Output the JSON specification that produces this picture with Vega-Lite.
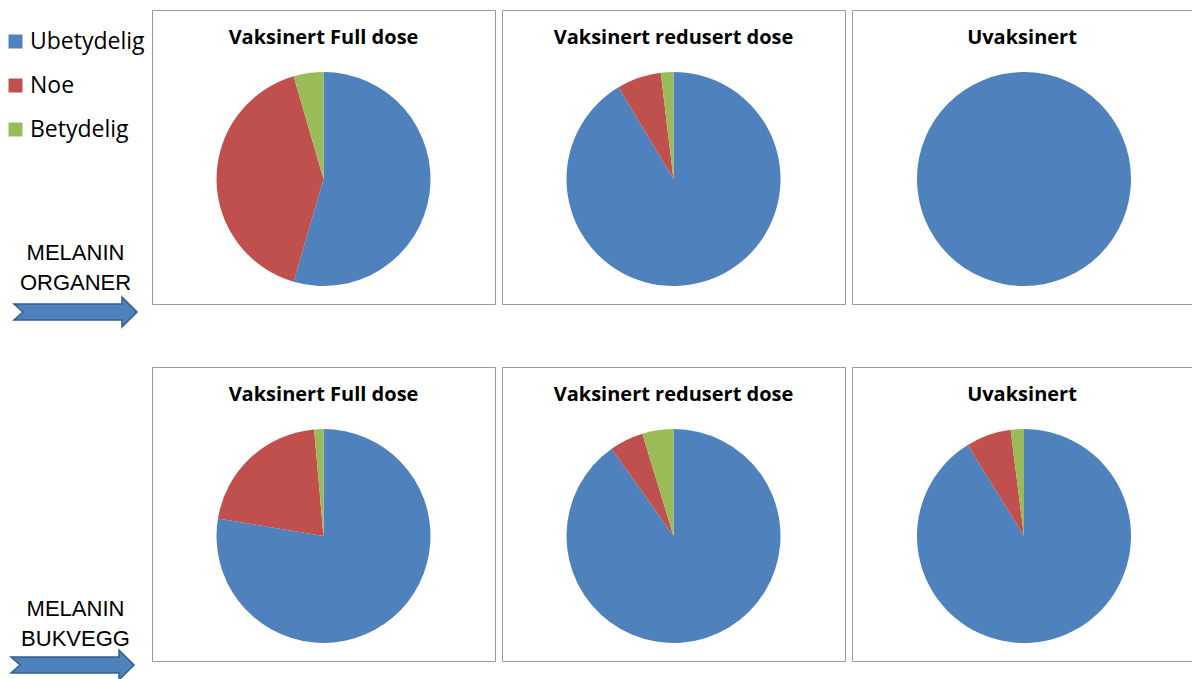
{
  "$schema": "https://vega.github.io/schema/vega-lite/v6.json",
  "background": "white",
  "padding": {"left": 0, "top": 9, "right": 0, "bottom": 0},
  "datasets": {
    "pie": [
      {"gruppe": "MELANIN ORGANER", "behandling": "Vaksinert Full dose", "kategori": "Ubetydelig", "andel": 54.5, "ord": 1},
      {"gruppe": "MELANIN ORGANER", "behandling": "Vaksinert Full dose", "kategori": "Noe", "andel": 41.0, "ord": 2},
      {"gruppe": "MELANIN ORGANER", "behandling": "Vaksinert Full dose", "kategori": "Betydelig", "andel": 4.5, "ord": 3},
      {"gruppe": "MELANIN ORGANER", "behandling": "Vaksinert redusert dose", "kategori": "Ubetydelig", "andel": 91.4, "ord": 1},
      {"gruppe": "MELANIN ORGANER", "behandling": "Vaksinert redusert dose", "kategori": "Noe", "andel": 6.7, "ord": 2},
      {"gruppe": "MELANIN ORGANER", "behandling": "Vaksinert redusert dose", "kategori": "Betydelig", "andel": 1.9, "ord": 3},
      {"gruppe": "MELANIN ORGANER", "behandling": "Uvaksinert", "kategori": "Ubetydelig", "andel": 100, "ord": 1},
      {"gruppe": "MELANIN ORGANER", "behandling": "Uvaksinert", "kategori": "Noe", "andel": 0, "ord": 2},
      {"gruppe": "MELANIN ORGANER", "behandling": "Uvaksinert", "kategori": "Betydelig", "andel": 0, "ord": 3},
      {"gruppe": "MELANIN BUKVEGG", "behandling": "Vaksinert Full dose", "kategori": "Ubetydelig", "andel": 77.6, "ord": 1},
      {"gruppe": "MELANIN BUKVEGG", "behandling": "Vaksinert Full dose", "kategori": "Noe", "andel": 21.0, "ord": 2},
      {"gruppe": "MELANIN BUKVEGG", "behandling": "Vaksinert Full dose", "kategori": "Betydelig", "andel": 1.4, "ord": 3},
      {"gruppe": "MELANIN BUKVEGG", "behandling": "Vaksinert redusert dose", "kategori": "Ubetydelig", "andel": 90.2, "ord": 1},
      {"gruppe": "MELANIN BUKVEGG", "behandling": "Vaksinert redusert dose", "kategori": "Noe", "andel": 5.1, "ord": 2},
      {"gruppe": "MELANIN BUKVEGG", "behandling": "Vaksinert redusert dose", "kategori": "Betydelig", "andel": 4.7, "ord": 3},
      {"gruppe": "MELANIN BUKVEGG", "behandling": "Uvaksinert", "kategori": "Ubetydelig", "andel": 91.2, "ord": 1},
      {"gruppe": "MELANIN BUKVEGG", "behandling": "Uvaksinert", "kategori": "Noe", "andel": 6.8, "ord": 2},
      {"gruppe": "MELANIN BUKVEGG", "behandling": "Uvaksinert", "kategori": "Betydelig", "andel": 2.0, "ord": 3}
    ],
    "rad1": [{"rad": ["MELANIN", "ORGANER"]}],
    "rad2": [{"rad": ["MELANIN", "BUKVEGG"]}],
    "pil": [{"pil": "arrow"}],
    "tom": []
  },
  "hconcat": [
    {
      "vconcat": [
        {"data": {"name": "tom"}, "width": 151, "height": 228, "view": {"stroke": null}, "mark": "point", "encoding": {}},
        {
          "vconcat": [
            {"data": {"name": "rad1"}, "width": 151, "height": 60, "view": {"stroke": null},
             "mark": {"type": "text", "font": "Liberation Sans", "fontSize": 22, "lineHeight": 30, "align": "center", "baseline": "middle", "dy": -15, "color": "#000"},
             "encoding": {"text": {"field": "rad"}}},
            {"data": {"name": "pil"}, "width": 151, "height": 22, "view": {"stroke": null},
             "mark": {"type": "point", "shape": "M-1,-0.13 L0.756,-0.13 L0.756,-0.244 L1,0 L0.756,0.244 L0.756,0.13 L-1,0.13 L-0.854,0 Z", "size": 15129, "filled": true, "fill": "#4F81BD", "stroke": "#385D8A", "strokeWidth": 1.5, "opacity": 1},
             "encoding": {}}
          ],
          "spacing": -5
        },
        {"data": {"name": "tom"}, "width": 151, "height": 263, "view": {"stroke": null}, "mark": "point", "encoding": {}},
        {
          "vconcat": [
            {"data": {"name": "rad2"}, "width": 151, "height": 60, "view": {"stroke": null},
             "mark": {"type": "text", "font": "Liberation Sans", "fontSize": 22, "lineHeight": 30, "align": "center", "baseline": "middle", "dy": -15, "color": "#000"},
             "encoding": {"text": {"field": "rad"}}},
            {"data": {"name": "pil"}, "width": 145, "height": 22, "view": {"stroke": null},
             "mark": {"type": "point", "shape": "M-1,-0.13 L0.756,-0.13 L0.756,-0.244 L1,0 L0.756,0.244 L0.756,0.13 L-1,0.13 L-0.854,0 Z", "size": 15129, "filled": true, "fill": "#4F81BD", "stroke": "#385D8A", "strokeWidth": 1.5, "opacity": 1},
             "encoding": {}}
          ],
          "spacing": -10
        }
      ],
      "spacing": 0
    },
    {
      "data": {"name": "pie"},
      "vconcat": [
        {
          "hconcat": [
            {"width": 343, "height": 294, "title": "Vaksinert Full dose", "view": {"stroke": "#9a9a9a"},
             "transform": [{"filter": "datum.gruppe === 'MELANIN ORGANER' && datum.behandling === 'Vaksinert Full dose'"}],
             "mark": {"type": "arc", "outerRadius": 107, "yOffset": 22},
             "encoding": {"theta": {"field": "andel", "type": "quantitative", "stack": true}, "order": {"field": "ord", "type": "quantitative"},
               "color": {"field": "kategori", "type": "nominal", "scale": {"domain": ["Ubetydelig", "Noe", "Betydelig"], "range": ["#4F81BD", "#C0504D", "#9BBB59"]}}}},
            {"width": 343, "height": 294, "title": "Vaksinert redusert dose", "view": {"stroke": "#9a9a9a"},
             "transform": [{"filter": "datum.gruppe === 'MELANIN ORGANER' && datum.behandling === 'Vaksinert redusert dose'"}],
             "mark": {"type": "arc", "outerRadius": 107, "yOffset": 22},
             "encoding": {"theta": {"field": "andel", "type": "quantitative", "stack": true}, "order": {"field": "ord", "type": "quantitative"},
               "color": {"field": "kategori", "type": "nominal", "scale": {"domain": ["Ubetydelig", "Noe", "Betydelig"], "range": ["#4F81BD", "#C0504D", "#9BBB59"]}}}},
            {"width": 340, "height": 294, "title": "Uvaksinert", "view": {"stroke": "#9a9a9a"},
             "transform": [{"filter": "datum.gruppe === 'MELANIN ORGANER' && datum.behandling === 'Uvaksinert'"}],
             "mark": {"type": "arc", "outerRadius": 107, "yOffset": 22, "xOffset": 2},
             "encoding": {"theta": {"field": "andel", "type": "quantitative", "stack": true}, "order": {"field": "ord", "type": "quantitative"},
               "color": {"field": "kategori", "type": "nominal", "scale": {"domain": ["Ubetydelig", "Noe", "Betydelig"], "range": ["#4F81BD", "#C0504D", "#9BBB59"]}}}}
          ],
          "spacing": 5
        },
        {
          "hconcat": [
            {"width": 343, "height": 294, "title": "Vaksinert Full dose", "view": {"stroke": "#9a9a9a"},
             "transform": [{"filter": "datum.gruppe === 'MELANIN BUKVEGG' && datum.behandling === 'Vaksinert Full dose'"}],
             "mark": {"type": "arc", "outerRadius": 107, "yOffset": 22},
             "encoding": {"theta": {"field": "andel", "type": "quantitative", "stack": true}, "order": {"field": "ord", "type": "quantitative"},
               "color": {"field": "kategori", "type": "nominal", "scale": {"domain": ["Ubetydelig", "Noe", "Betydelig"], "range": ["#4F81BD", "#C0504D", "#9BBB59"]}}}},
            {"width": 343, "height": 294, "title": "Vaksinert redusert dose", "view": {"stroke": "#9a9a9a"},
             "transform": [{"filter": "datum.gruppe === 'MELANIN BUKVEGG' && datum.behandling === 'Vaksinert redusert dose'"}],
             "mark": {"type": "arc", "outerRadius": 107, "yOffset": 22},
             "encoding": {"theta": {"field": "andel", "type": "quantitative", "stack": true}, "order": {"field": "ord", "type": "quantitative"},
               "color": {"field": "kategori", "type": "nominal", "scale": {"domain": ["Ubetydelig", "Noe", "Betydelig"], "range": ["#4F81BD", "#C0504D", "#9BBB59"]}}}},
            {"width": 340, "height": 294, "title": "Uvaksinert", "view": {"stroke": "#9a9a9a"},
             "transform": [{"filter": "datum.gruppe === 'MELANIN BUKVEGG' && datum.behandling === 'Uvaksinert'"}],
             "mark": {"type": "arc", "outerRadius": 107, "yOffset": 22, "xOffset": 2},
             "encoding": {"theta": {"field": "andel", "type": "quantitative", "stack": true}, "order": {"field": "ord", "type": "quantitative"},
               "color": {"field": "kategori", "type": "nominal", "scale": {"domain": ["Ubetydelig", "Noe", "Betydelig"], "range": ["#4F81BD", "#C0504D", "#9BBB59"]}}}}
          ],
          "spacing": 5
        }
      ],
      "spacing": 61
    }
  ],
  "spacing": 0,
  "config": {
    "view": {"stroke": "#9a9a9a", "strokeWidth": 1},
    "arc": {"stroke": null},
    "title": {"font": "Open Sans", "fontSize": 20, "fontWeight": "bold", "color": "#000", "anchor": "middle", "frame": "group", "baseline": "middle", "offset": -38},
    "legend": {"orient": "none", "legendX": 4, "legendY": 20, "title": null, "symbolType": "square", "symbolSize": 196, "symbolStrokeWidth": 0, "symbolOpacity": 1, "labelFont": "Open Sans", "labelFontSize": 23, "labelColor": "#000", "labelOffset": 3, "rowPadding": 20, "labelLimit": 300}
  }
}
